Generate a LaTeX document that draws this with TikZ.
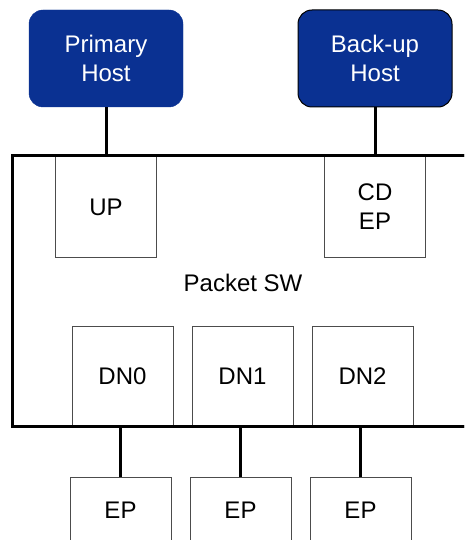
\documentclass[tikz,border=0pt]{standalone}
\usepackage{fontspec}
\setmainfont{Liberation Sans}
\definecolor{hostblue}{HTML}{0A3192}
\begin{document}
\begin{tikzpicture}[x=1pt,y=-1pt,
  txt/.style={font=\fontsize{24}{29}\selectfont},
  host/.style={txt,draw=hostblue,fill=hostblue,rounded corners=14pt,text=white,align=center,minimum width=154pt,minimum height=97pt,inner sep=0pt},
  port/.style={txt,draw=black!70,line width=1pt,fill=white,align=center,minimum width=101pt,minimum height=100pt,inner sep=0pt},
  wire/.style={line width=3pt,black}]
\useasboundingbox (0,0) rectangle (464,540);
\begin{scope}
\clip (0,0) rectangle (464,540);
\node[host] (ph) at (106,58.5) {Primary\\Host};
\node[host,draw=black,line width=1pt] (bh) at (375,58.5) {Back-up\\Host};
\draw[wire] (480,156) -- (12,156) -- (12,426) -- (480,426);
\node[port] (up) at (106,207) {UP};
\node[port] (cd) at (375,207) {CD\\EP};
\node[txt] (lbl) at (243,283) {Packet SW};
\node[port] (dn0) at (122.5,376) {DN0};
\node[port] (dn1) at (242.5,376) {DN1};
\node[port] (dn2) at (362.5,376) {DN2};
\node[port,minimum height=66pt] (ep0) at (120.5,510) {EP};
\node[port,minimum height=66pt] (ep1) at (240.5,510) {EP};
\node[port,minimum height=66pt] (ep2) at (360.5,510) {EP};
\draw[wire] (ph.south) -- (up.north);
\draw[wire] (bh.south) -- (cd.north);
\draw[wire] (ep0.north |- dn0.south) -- (ep0.north);
\draw[wire] (ep1.north |- dn1.south) -- (ep1.north);
\draw[wire] (ep2.north |- dn2.south) -- (ep2.north);
\draw[wire] (480,156) -- (12,156);
\draw[wire] (12,426) -- (480,426);
\end{scope}
\end{tikzpicture}
\end{document}
